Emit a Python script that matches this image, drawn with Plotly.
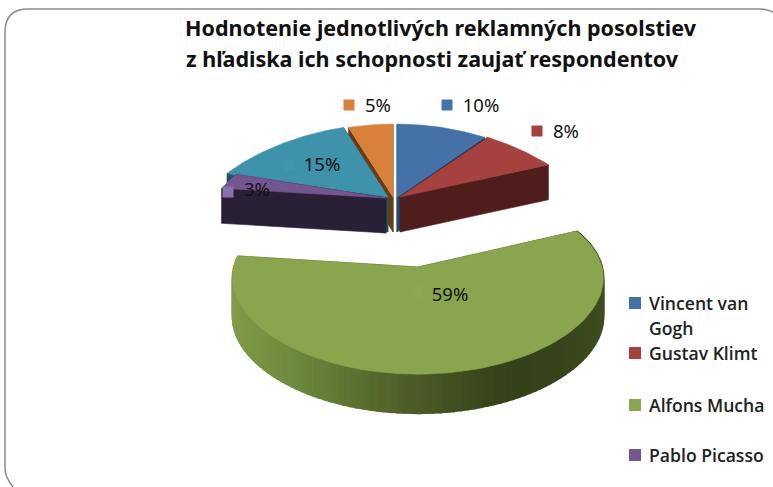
import numpy as np
import plotly.graph_objects as go

# ---- data ----
categories = ["Vincent van Gogh", "Gustav Klimt", "Alfons Mucha", "Pablo Picasso", "Auguste Rodin", "Gustave Moreau"]
values = [10, 8, 59, 3, 15, 5]
labels = ["10%", "8%", "59%", "3%", "15%", "5%"]
title_lines = ["Hodnotenie jednotlivých reklamných posolstiev",
               "z hľadiska ich schopnosti zaujať respondentov"]
legend_lines = ["Vincent van", "Gogh", "Gustav Klimt", "Alfons Mucha", "Pablo Picasso"]

# ---- styles ----
top_col = ["#4472a8", "#a5423f", "#89a54e", "#735590", "#3e93ab", "#d8813b"]
face_col = ["#234a73", "#4f1e1c", "#3d4a20", "#2a2036", "#1d5566", "#6b3a12"]
apex = [(397, 197), (400, 197), (418, 267), (386, 198), (388, 197), (393, 197)]
UP = dict(A=185, kx=.30, B=78, ky=.07, d=35)
PUR = dict(A=172, kx=.30, B=78, ky=.07, d=35)
LOW = dict(A=184, kx=.12, B=90, ky=.16, d=39)
geo = [UP, UP, LOW, PUR, UP, UP]
order = [5, 0, 4, 1, 3, 2]


def project(theta, a, g):
    u, v = np.sin(theta), np.cos(theta)
    return a[0] + g["A"] * u / (1 + g["kx"] * v), a[1] - g["B"] * v / (1 + g["ky"] * v)


def poly(fig, xs, ys, col, lw=.6):
    fig.add_trace(go.Scatter(x=list(xs), y=list(ys), mode="lines", fill="toself", fillcolor=col,
                             line=dict(color=col, width=lw), hoverinfo="skip", showlegend=False))


def wall_color(x):
    sx = [232, 300, 400, 500, 560, 606]
    ch = [[130, 106, 80, 54, 56, 64], [156, 136, 96, 66, 68, 78], [72, 60, 42, 25, 27, 32]]
    return "rgb(%d,%d,%d)" % tuple(np.interp(x, sx, c) for c in ch)


fig = go.Figure()
edges = np.concatenate([[0], np.cumsum(values)]) / sum(values) * 2 * np.pi

for i in order:
    a, g = apex[i], geo[i]
    t0, t1 = edges[i], edges[i + 1]
    # cut faces
    for t in (t0, t1):
        ex, ey = project(t, a, g)
        poly(fig, [a[0], ex, ex, a[0], a[0]],
             [a[1], ey, ey + g["d"], a[1] + g["d"], a[1]], face_col[i])
    # outer wall, shaded strip by strip
    if g is LOW:
        ts = np.linspace(t0, t1, 110)
        for s0, s1 in zip(ts[:-1], ts[1:]):
            x0, y0 = project(s0, a, g)
            x1, y1 = project(s1, a, g)
            poly(fig, [x0, x1, x1, x0, x0], [y0, y1, y1 + g["d"], y0 + g["d"], y0],
                 wall_color((x0 + x1) / 2), lw=2)
    # top surface
    ts = np.linspace(t0, t1, 80)
    rx, ry = project(ts, a, g)
    poly(fig, [a[0], *rx, a[0]], [a[1], *ry, a[1]], top_col[i])

# data label keys and text
key_pos = [(447, 105), (537, 131), (417, 292), (228, 192), (289, 165), (349, 105)]
key_col = ["#4472a8", "#a5423f", "#8ba74f", "#8a72a8", "#4096ae", "#d8813b"]
lab_pos = [(481, 107), (566, 133), (450, 296), (257, 191), (322, 166), (378, 107)]
fig.add_trace(go.Scatter(x=[p[0] for p in key_pos], y=[p[1] for p in key_pos], mode="markers",
                         marker=dict(symbol="square", size=11, color=key_col, line=dict(width=0)),
                         hoverinfo="skip", showlegend=False))
fig.add_trace(go.Scatter(x=[p[0] for p in lab_pos], y=[p[1] for p in lab_pos], mode="text", text=labels,
                         textfont=dict(family="Noto Sans", size=18.5, color="#111111"),
                         hoverinfo="skip", showlegend=False))

# legend
leg_keys_y = [303, 353, 405, 455]
leg_cols = top_col[:4]
leg_text_y = [303, 328, 353, 405, 455]
fig.add_trace(go.Scatter(x=[635] * 4, y=leg_keys_y, mode="markers",
                         marker=dict(symbol="square", size=12, color=leg_cols, line=dict(width=0)),
                         hoverinfo="skip", showlegend=False))
annotations = [dict(x=647, y=y, text=t, xref="x", yref="y", xanchor="left", yanchor="middle", showarrow=False,
                    font=dict(family="Open Sans", size=17.6, color="#222222", weight=600))
               for t, y in zip(legend_lines, leg_text_y)]
annotations += [dict(x=x, y=y, text=t, xref="x", yref="y", xanchor="center", yanchor="middle", showarrow=False,
                     font=dict(family="Noto Sans", size=21.5, color="#111111", weight=700))
                for t, x, y in zip(title_lines, (441, 432), (27, 58))]

frame = "M 13,487 Q 5,477 5,468 L 5,32 Q 5,9 28,9 L 760,9 Q 767,9 773,12"
fig.update_layout(
    width=773, height=487, margin=dict(l=0, r=0, t=0, b=0),
    paper_bgcolor="white", plot_bgcolor="white", showlegend=False,
    xaxis=dict(range=[0, 773], visible=False, fixedrange=True),
    yaxis=dict(range=[487, 0], visible=False, fixedrange=True),
    annotations=annotations,
    shapes=[dict(type="path", path=frame, line=dict(color="#8c8c8c", width=1.5), layer="below")],
)
fig.write_html("out.html", config=dict(displayModeBar=False),
               post_script="document.body.style.margin='0';document.body.style.overflow='hidden';")
